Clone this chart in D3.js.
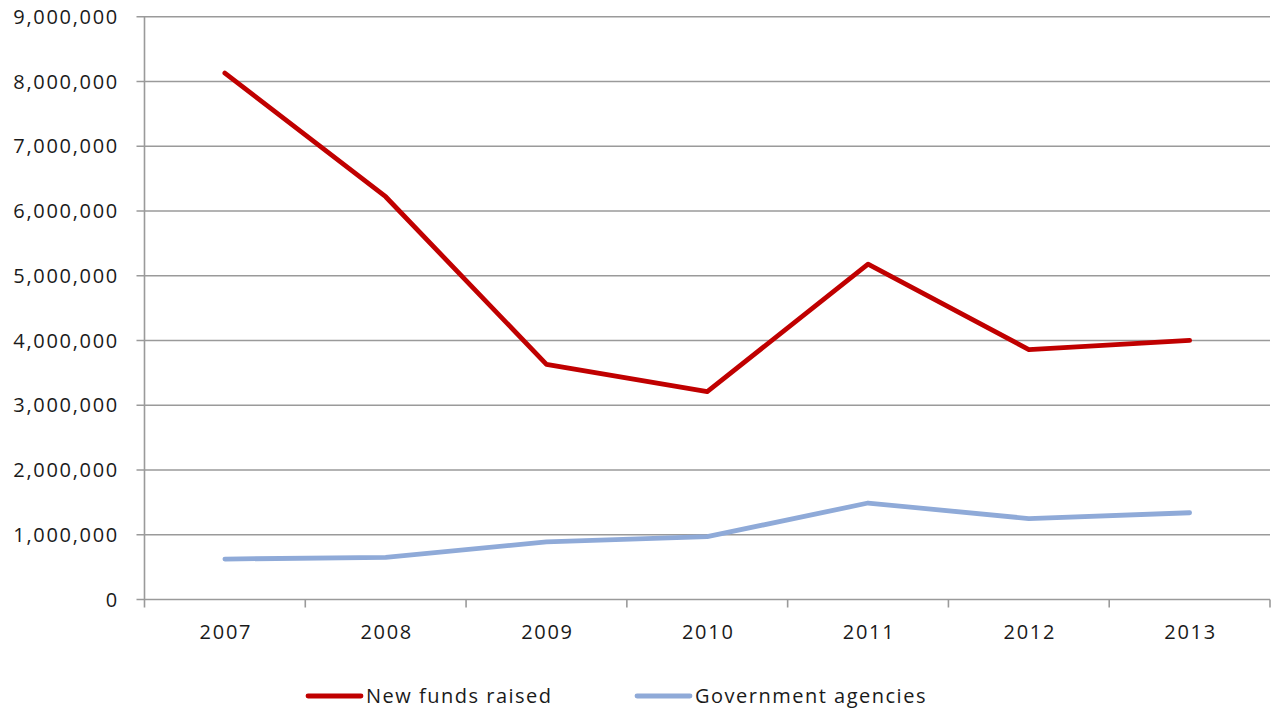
<!DOCTYPE html>
<html><head><meta charset="utf-8">
<script src="https://cdn.jsdelivr.net/npm/d3@7"></script>
<style>
body{margin:0;background:#fff;}
text{font-family:"Open Sans",sans-serif;fill:#1a1a1a;}
</style></head>
<body><svg id="c" width="1273" height="708"></svg>
<script>
const years = ["2007","2008","2009","2010","2011","2012","2013"];
const newFunds = [8130000, 6220000, 3630000, 3210000, 5180000, 3860000, 4000000];
const govAgencies = [625000, 650000, 890000, 970000, 1490000, 1250000, 1340000];
const yTicks = [0,1000000,2000000,3000000,4000000,5000000,6000000,7000000,8000000,9000000];
const seriesNames = ["New funds raised","Government agencies"];
const seriesColors = ["#c00000","#8faad8"];

const svg = d3.select("#c");
const m = {left:144.5, right:1270, top:16.7, bottom:599.5};
const x = d3.scaleBand().domain(years).range([m.left, m.right]);
const y = d3.scaleLinear().domain([0,9000000]).range([m.bottom, m.top]);
const fmt = d3.format(",");

// gridlines
svg.append("g").selectAll("line").data(yTicks).join("line")
  .attr("x1", m.left-8).attr("x2", m.right)
  .attr("y1", d=>y(d)).attr("y2", d=>y(d))
  .attr("stroke","#9a9a9a").attr("stroke-width",1.6);

// y axis line
svg.append("line").attr("x1",m.left).attr("x2",m.left).attr("y1",m.top).attr("y2",m.bottom+8)
  .attr("stroke","#9a9a9a").attr("stroke-width",1.6);

// y labels
svg.append("g").selectAll("text").data(yTicks).join("text")
  .attr("x", 119).attr("y", d=>y(d)).attr("dy","0.36em")
  .attr("text-anchor","end").attr("font-size",20).attr("letter-spacing",1.7)
  .text(d=>fmt(d));

// x ticks
const bounds = years.slice(1).map(yr=>x(yr)).concat([m.right]);
svg.append("g").selectAll("line").data(bounds).join("line")
  .attr("x1",d=>d).attr("x2",d=>d).attr("y1",m.bottom).attr("y2",m.bottom+8)
  .attr("stroke","#9a9a9a").attr("stroke-width",1.6);

// x labels
svg.append("g").selectAll("text").data(years).join("text")
  .attr("x", d=>x(d)+x.bandwidth()/2+1).attr("y", 639)
  .attr("text-anchor","middle").attr("font-size",20).attr("letter-spacing",1.7)
  .text(d=>d);

const line = d3.line().x((d,i)=>x(years[i])+x.bandwidth()/2).y(d=>y(d));
[newFunds, govAgencies].forEach((s,k)=>{
  svg.append("path").datum(s).attr("d",line).attr("fill","none")
    .attr("stroke",seriesColors[k]).attr("stroke-width",4.8)
    .attr("stroke-linejoin","round").attr("stroke-linecap","round");
});

// legend
const legX = [308, 637];
seriesNames.forEach((n,k)=>{
  svg.append("line").attr("x1",legX[k]).attr("x2",legX[k]+53).attr("y1",696).attr("y2",696)
    .attr("stroke",seriesColors[k]).attr("stroke-width",4.8).attr("stroke-linecap","round");
  svg.append("text").attr("x",legX[k]+58).attr("y",696).attr("dy","0.36em")
    .attr("font-size",20).attr("letter-spacing",1.5).text(n);
});
</script></body></html>
